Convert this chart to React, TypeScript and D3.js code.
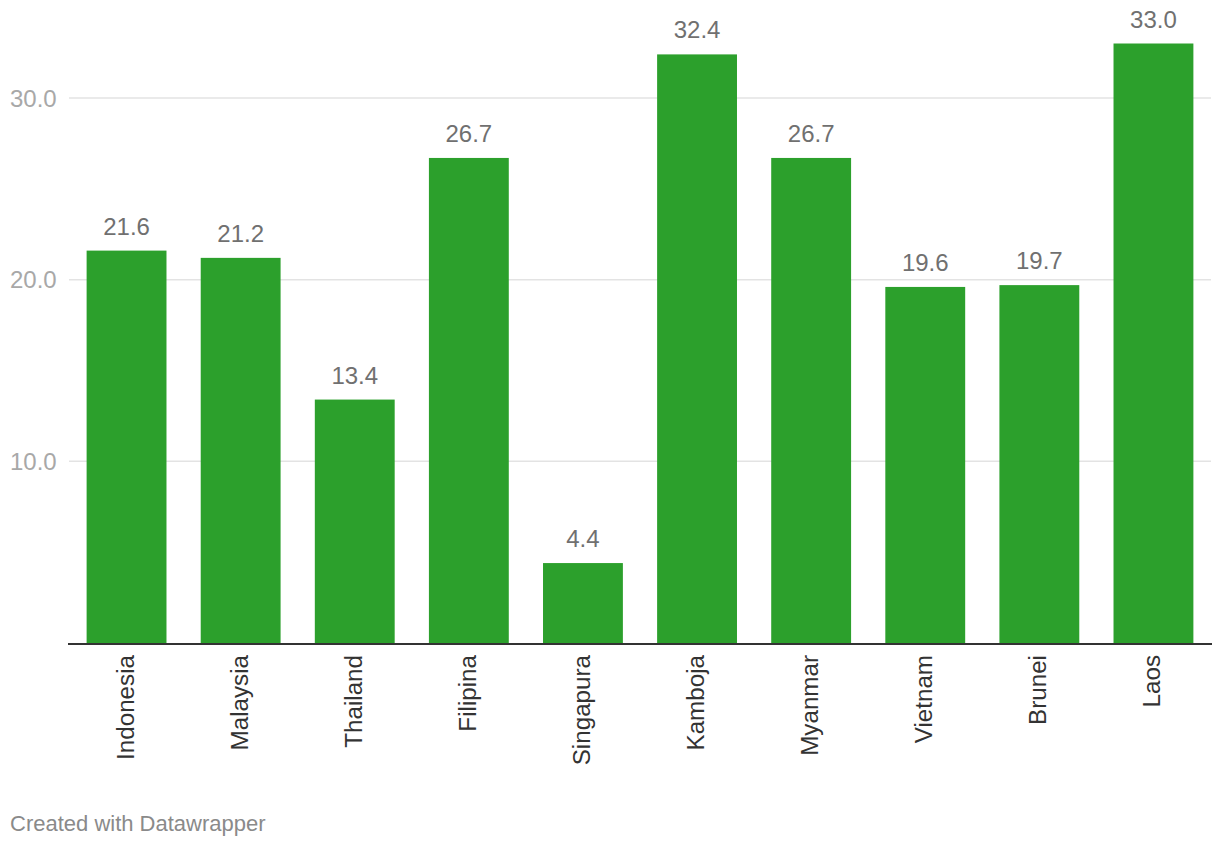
import React from "react";
import * as d3 from "d3";

const categories = ["Indonesia", "Malaysia", "Thailand", "Filipina", "Singapura", "Kamboja", "Myanmar", "Vietnam", "Brunei", "Laos"];
const values = [21.6, 21.2, 13.4, 26.7, 4.4, 32.4, 26.7, 19.6, 19.7, 33.0];
const yTicks = [10, 20, 30];
const footer = "Created with Datawrapper";

const W = 1220;
const H = 846;
const FONT = "'Liberation Sans', Arial, Helvetica, sans-serif";

export default function App() {
  const x = d3.scaleBand<string>().domain(categories).range([69.5, 1210.5]).paddingInner(0.3).paddingOuter(0.15);
  const y = d3.scaleLinear().domain([0, 30]).range([643, 98]);
  const fmt = d3.format(".1f");
  return (
    <svg width={W} height={H} style={{ position: "absolute", left: 0, top: 0, background: "#fff" }}>
      {yTicks.map((t) => (
        <g key={t}>
          <line x1={69} x2={1211} y1={y(t)} y2={y(t)} stroke="#e3e3e3" strokeWidth={1.5} />
          <text x={10} y={y(t) + 8.5} fontFamily={FONT} fontSize={24} fill="#a8a8a8">{fmt(t)}</text>
        </g>
      ))}
      {categories.map((c, i) => {
        const bx = x(c)!;
        const bw = x.bandwidth();
        const top = y(values[i]);
        return (
          <g key={c}>
            <rect x={bx} y={top} width={bw} height={y(0) - top} fill="#2ca02c" />
            <text x={bx + bw / 2} y={top - 16} textAnchor="middle" fontFamily={FONT} fontSize={24} fill="#707070">{fmt(values[i])}</text>
            <text transform={`translate(${bx + bw / 2 + 7},${655}) rotate(-90)`} textAnchor="end" fontFamily={FONT} fontSize={24.2} fill="#333">{c}</text>
          </g>
        );
      })}
      <line x1={68} x2={1212} y1={644} y2={644} stroke="#333" strokeWidth={2} />
      <text x={10} y={831} fontFamily={FONT} fontSize={22} fill="#8a8a8a">{footer}</text>
    </svg>
  );
}
